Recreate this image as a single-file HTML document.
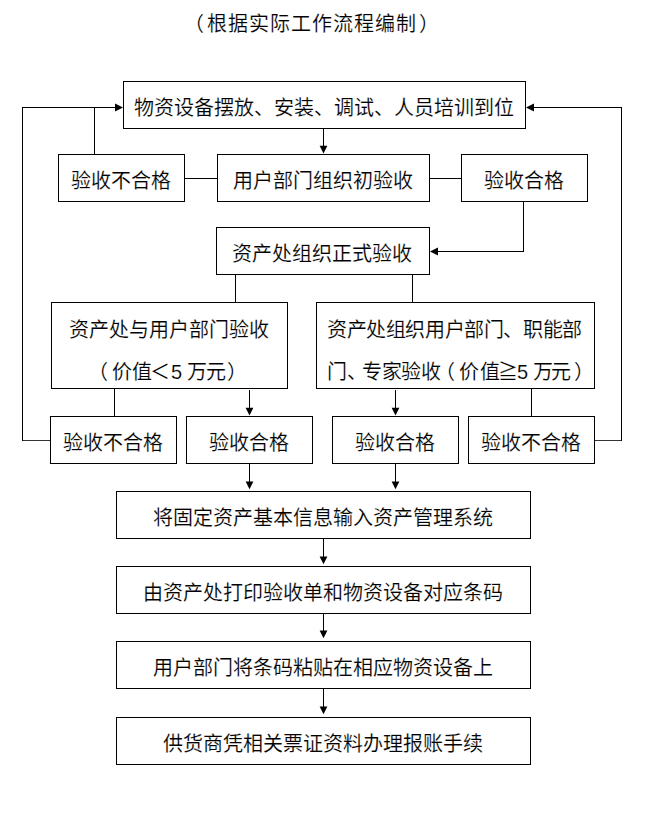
<!DOCTYPE html>
<html lang="zh-CN"><head><meta charset="utf-8"><style>
html,body{margin:0;padding:0;background:#fff;width:647px;height:817px;overflow:hidden}
body{position:relative}
svg{position:absolute;left:0;top:0}
svg rect,svg path{fill:none;stroke:#000;stroke-width:1}
svg .f{fill:#000;stroke:none;shape-rendering:geometricPrecision}
.t{position:absolute;font-family:"Liberation Sans",sans-serif;font-size:20px;line-height:24px;height:24px;text-align:center;white-space:nowrap;color:#000;-webkit-text-stroke:0.15px #fff}
.l{text-align:left}
</style></head><body>
<svg width="647" height="817" viewBox="0 0 647 817" shape-rendering="crispEdges">
<rect x="123.5" y="81.5" width="402" height="47"/>
<rect x="58.5" y="154.5" width="126" height="47"/>
<rect x="217.5" y="154.5" width="212" height="47"/>
<rect x="461.5" y="154.5" width="126" height="47"/>
<rect x="216.5" y="227.5" width="213" height="47"/>
<rect x="51.5" y="302.5" width="236" height="86"/>
<rect x="316.5" y="302.5" width="278" height="86"/>
<rect x="50.5" y="416.5" width="126" height="47"/>
<rect x="186.5" y="416.5" width="126" height="47"/>
<rect x="332.5" y="416.5" width="126" height="47"/>
<rect x="468.5" y="416.5" width="126" height="47"/>
<rect x="116.5" y="491.5" width="414" height="47"/>
<rect x="116.5" y="566.5" width="414" height="47"/>
<rect x="116.5" y="641.5" width="414" height="47"/>
<rect x="116.5" y="717.5" width="414" height="47"/>
<path d="M23 440.5H50" style="stroke:#333"/>
<path d="M22.5 107V441"/>
<path d="M22 107.5H116"/>
<polygon class="f" points="115,103.5 115,111.5 123,107.5"/>
<path d="M94.5 107V154"/>
<path d="M595 440.5H621" style="stroke:#333"/>
<path d="M621.5 107V441"/>
<path d="M534 107.5H622"/>
<polygon class="f" points="534,103.5 534,111.5 526,107.5"/>
<path d="M323.5 129V147"/>
<polygon class="f" points="319.6,145.7 327.4,145.7 323.5,153.5"/>
<path d="M185 178.5H217"/>
<path d="M430 178.5H461"/>
<path d="M523.5 202V252"/>
<path d="M437 251.5H524"/>
<polygon class="f" points="438,247.5 438,255.5 430,251.5"/>
<path d="M235.5 275V302"/>
<path d="M412.5 275V302"/>
<path d="M114.5 389V416"/>
<path d="M531.5 389V416"/>
<path d="M249.5 390V408"/>
<polygon class="f" points="245.6,407.7 253.4,407.7 249.5,415.5"/>
<path d="M395.5 390V408"/>
<polygon class="f" points="391.6,407.7 399.4,407.7 395.5,415.5"/>
<path d="M249.5 464V482"/>
<polygon class="f" points="245.6,481.5 253.4,481.5 249.5,489.3"/>
<path d="M395.5 464V482"/>
<polygon class="f" points="391.6,481.5 399.4,481.5 395.5,489.3"/>
<path d="M323.5 539V557"/>
<polygon class="f" points="319.6,556.5 327.4,556.5 323.5,564.3"/>
<path d="M323.5 614V631"/>
<polygon class="f" points="319.6,630.5 327.4,630.5 323.5,638.3"/>
<path d="M323.5 689V707"/>
<polygon class="f" points="319.6,706.5 327.4,706.5 323.5,714.3"/>
</svg>
<div class="t" style="left:122px;top:96px;width:403px;">物资设备摆放、安装、调试、人员培训到位</div>
<div class="t" style="left:57px;top:169px;width:127px;">验收不合格</div>
<div class="t" style="left:216px;top:169px;width:213px;">用户部门组织初验收</div>
<div class="t" style="left:460px;top:169px;width:127px;">验收合格</div>
<div class="t" style="left:215px;top:242px;width:214px;">资产处组织正式验收</div>
<div class="t" style="left:50px;top:318px;width:237px;">资产处与用户部门验收</div>
<div class="t l" style="left:88px;top:360px;width:24px;">（</div>
<div class="t l" style="left:112px;top:360px;width:24px;">价</div>
<div class="t l" style="left:132px;top:360px;width:24px;">值</div>
<div class="t l" style="left:150px;top:360px;width:24px;">＜</div>
<div class="t l" style="left:171px;top:360px;width:24px;">5</div>
<div class="t l" style="left:187px;top:360px;width:24px;">万</div>
<div class="t l" style="left:206px;top:360px;width:24px;">元</div>
<div class="t l" style="left:227px;top:360px;width:24px;">）</div>
<div class="t l" style="left:327px;top:318px;width:270px;letter-spacing:-0.4px">资产处组织用户部门、职能部</div>
<div class="t l" style="left:327px;top:360px;width:24px;">门</div>
<div class="t l" style="left:347px;top:360px;width:24px;">、</div>
<div class="t l" style="left:362px;top:360px;width:24px;">专</div>
<div class="t l" style="left:382px;top:360px;width:24px;">家</div>
<div class="t l" style="left:401px;top:360px;width:24px;">验</div>
<div class="t l" style="left:421px;top:360px;width:24px;">收</div>
<div class="t l" style="left:435px;top:360px;width:24px;">（</div>
<div class="t l" style="left:459px;top:360px;width:24px;">价</div>
<div class="t l" style="left:480px;top:360px;width:24px;">值</div>
<div class="t l" style="left:498px;top:360px;width:24px;">≧</div>
<div class="t l" style="left:517px;top:360px;width:24px;">5</div>
<div class="t l" style="left:533px;top:360px;width:24px;">万</div>
<div class="t l" style="left:551px;top:360px;width:24px;">元</div>
<div class="t l" style="left:574px;top:360px;width:24px;">）</div>
<div class="t" style="left:49px;top:431px;width:127px;">验收不合格</div>
<div class="t" style="left:467px;top:431px;width:127px;">验收不合格</div>
<div class="t" style="left:185px;top:431px;width:127px;">验收合格</div>
<div class="t" style="left:331px;top:431px;width:127px;">验收合格</div>
<div class="t" style="left:115px;top:506px;width:415px;">将固定资产基本信息输入资产管理系统</div>
<div class="t" style="left:115px;top:581px;width:415px;">由资产处打印验收单和物资设备对应条码</div>
<div class="t" style="left:115px;top:656px;width:415px;">用户部门将条码粘贴在相应物资设备上</div>
<div class="t" style="left:115px;top:732px;width:415px;">供货商凭相关票证资料办理报账手续</div>
<div class="t l" style="left:184px;top:12px;width:30px;">（</div>
<div class="t l" style="left:207px;top:12px;width:240px;letter-spacing:1px">根据实际工作流程编制</div>
<div class="t l" style="left:419px;top:12px;width:30px;">）</div>
</body></html>
